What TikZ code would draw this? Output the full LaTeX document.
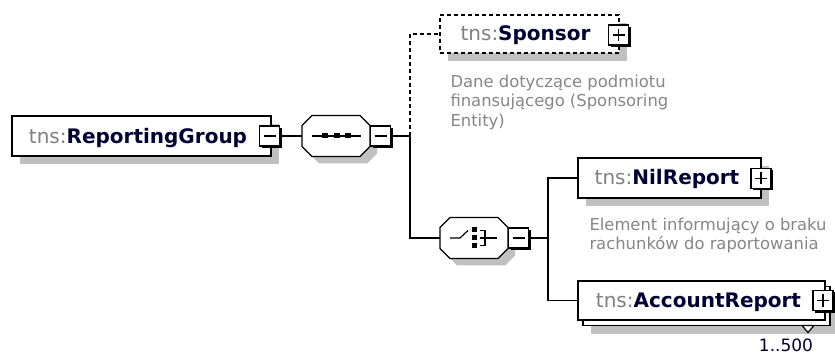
\documentclass[tikz,border=0pt]{standalone}
\usepackage{fontspec}
\setmainfont{DejaVu Sans}
\usetikzlibrary{calc,shadows}
\definecolor{shadowgray}{HTML}{C0C0C0}
\definecolor{nsgray}{HTML}{808080}
\definecolor{namecol}{HTML}{000033}
\definecolor{desccol}{HTML}{868686}
\begin{document}
\begin{tikzpicture}[x=1pt,y=-1pt,line width=1pt,
  elshadow/.style={drop shadow={shadow xshift=8pt,shadow yshift=-8pt,fill=shadowgray,opacity=1}},
  elbox/.style={rectangle,draw=black,fill=white,line width=1.2pt,inner sep=0pt},
  pmbox/.style={rectangle,draw=black,fill=white,line width=1.2pt,inner sep=0pt,
    minimum width=20pt,minimum height=20pt,
    drop shadow={shadow xshift=2pt,shadow yshift=-2pt,fill=black,opacity=1}},
  pmminus/.style={pmbox,path picture={\draw[line width=1.2pt]
    ([xshift=-6pt]path picture bounding box.center) -- ([xshift=6pt]path picture bounding box.center);}},
  pmplus/.style={pmbox,path picture={\draw[line width=1.2pt]
    ([xshift=-6pt]path picture bounding box.center) -- ([xshift=6pt]path picture bounding box.center)
    ([yshift=-6pt]path picture bounding box.center) -- ([yshift=6pt]path picture bounding box.center);}},
  nametext/.style={inner sep=0pt,anchor=base,text=namecol,font=\fontsize{20}{24}\selectfont},
  desctext/.style={inner sep=0pt,anchor=north west,align=left,text=desccol,font=\fontsize{16.4}{19.5}\selectfont},
  conn/.style={line width=1.2pt},
  oct/.style n args={4}{insert path={({#1+10},#2) -- ({#3-10},#2) -- (#3,{#2+10}) -- (#3,{#4-10}) -- ({#3-10},#4) -- ({#1+10},#4) -- (#1,{#4-10}) -- (#1,{#2+10}) -- cycle}},
  sq/.style={fill=black,draw=none}
]
\useasboundingbox (0,0) rectangle (835,355);

% ---------- ReportingGroup ----------
\node[elbox,elshadow,minimum width=259pt,minimum height=40pt] (rg) at (141.5,136) {};
\node[nametext] (rgl) at (138,144) {\textcolor{nsgray}{tns:}\textbf{ReportingGroup}};
\node[pmminus] (rgm) at (269.5,136) {};

% ---------- Sequence compositor ----------
\path[fill=shadowgray,oct={309}{122.5}{377}{163.5}];
\path[draw=black,fill=white,line width=1.2pt,oct={302}{115.5}{370}{156.5}];
\node[inner sep=0pt,minimum width=68pt,minimum height=41pt] (seq) at (336,136) {};
\draw[line width=1.2pt] (312,136) -- (361,136);
\fill[sq] (322,133.5) rectangle (328,138.5);
\fill[sq] (334,133.5) rectangle (340,138.5);
\fill[sq] (345,133.5) rectangle (351,138.5);
\node[pmminus] (seqm) at (380.5,136) {};

\coordinate (j1) at (410,136);

% ---------- Sponsor ----------
\node[elbox,elshadow,dash pattern=on 4pt off 3pt,minimum width=179pt,minimum height=38pt] (spon) at (529.5,34) {};
\node[nametext] (sponl) at (525.5,41) {\textcolor{nsgray}{tns:}\textbf{Sponsor}};
\node[pmplus] (sponp) at (618.5,35) {};
\node[desctext] (spond) at (450,74.5) {Dane dotyczące podmiotu\\finansującego (Sponsoring\\Entity)};

% ---------- Choice compositor ----------
\path[fill=shadowgray,oct={447}{224.5}{515}{265.5}];
\path[draw=black,fill=white,line width=1.2pt,oct={440}{217.5}{508}{258.5}];
\node[inner sep=0pt,minimum width=68pt,minimum height=41pt] (cho) at (474,238) {};
\draw[line width=1.2pt] (450,238) -- (460,238) -- (468,230.5);
\fill[sq] (472,227.5) rectangle (477,232);
\fill[sq] (472,235.5) rectangle (477,240);
\fill[sq] (472,243.5) rectangle (477,248);
\draw[line width=1.2pt] (479.5,230.5) -- (485,230.5) -- (485,245.5) -- (479.5,245.5);
\draw[line width=1.2pt] (479.5,238) -- (497,238);
\node[pmminus] (chom) at (518.5,238) {};

\coordinate (j2) at (548,238);

% ---------- NilReport ----------
\node[elbox,elshadow,minimum width=183pt,minimum height=40pt] (nil) at (669.5,178) {};
\node[nametext] (nill) at (667,185) {\textcolor{nsgray}{tns:}\textbf{NilReport}};
\node[pmplus] (nilp) at (761,178.5) {};
\node[desctext] (nild) at (589,217.5) {Element informujący o braku\\rachunków do raportowania};

% ---------- AccountReport ----------
\node[elbox,elshadow,minimum width=247pt,minimum height=39pt] (accb) at (706.5,306) {};
\node[elbox,minimum width=247pt,minimum height=39pt] (acc) at (701.5,300.5) {};
\node[nametext] (accl) at (698.5,308) {\textcolor{nsgray}{tns:}\textbf{AccountReport}};
\node[pmplus] (accp) at (823,300.5) {};
\draw[line width=1.2pt,fill=white] (802,325.5) -- (814,325.5) -- (808,332.5) -- cycle;
\node[inner sep=0pt,anchor=base east,text=namecol,font=\fontsize{17}{20}\selectfont] (accn) at (813.5,351) {1..500};

% ---------- connectors ----------
\draw[conn] (rgm.east) -- (seq.west);
\draw[conn] (seqm.east) -- (j1);
\draw[conn,dash pattern=on 4pt off 3pt] (j1) |- (spon.west);
\draw[conn] (j1) |- (cho.west);
\draw[conn] (chom.east) -- (j2);
\draw[conn] (j2) |- (nil.west);
\draw[conn] (j2) |- (acc.west);
\end{tikzpicture}
\end{document}
